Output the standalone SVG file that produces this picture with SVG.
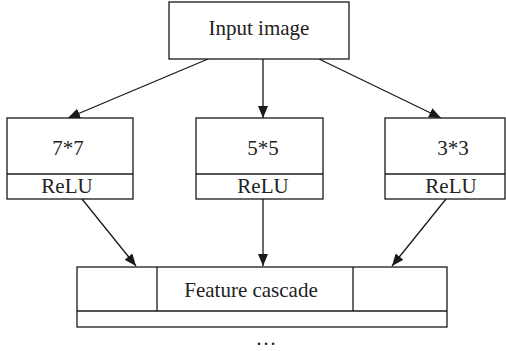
<svg xmlns="http://www.w3.org/2000/svg" width="506" height="351" viewBox="0 0 506 351">
<style>
.box{fill:#fff;stroke:#1a1a1a;stroke-width:1.3}
.ln{fill:none;stroke:#1a1a1a;stroke-width:1.3}
.edge{stroke:#1a1a1a;stroke-width:1.3;fill:none;marker-end:url(#ah)}
text{font-family:"Liberation Serif","Times New Roman",serif;font-size:21px;fill:#222;text-anchor:middle}
</style>
<defs>
<marker id="ah" viewBox="0 0 12 10" refX="12" refY="5" markerWidth="12" markerHeight="10" markerUnits="userSpaceOnUse" orient="auto">
<path d="M0,0 L12,5 L0,10 Z" fill="#1a1a1a"/>
</marker>
</defs>
<rect width="506" height="351" fill="#fff"/>
<g id="connectors">
<line class="edge" x1="208" y1="59" x2="68" y2="118"/>
<line class="edge" x1="263" y1="59" x2="263" y2="118"/>
<line class="edge" x1="319" y1="59" x2="441" y2="118"/>
<line class="edge" x1="82" y1="199" x2="136" y2="266"/>
<line class="edge" x1="263" y1="199" x2="263" y2="266"/>
<line class="edge" x1="446" y1="199" x2="392" y2="266"/>
</g>
<g id="input">
<rect class="box" x="169" y="2" width="180" height="57"/>
<text x="259" y="35">Input image</text>
</g>
<g id="conv7">
<rect class="box" x="7" y="118" width="126" height="81"/>
<line class="ln" x1="7" y1="174" x2="133" y2="174"/>
<text x="68" y="155">7*7</text>
<text x="67" y="193">ReLU</text>
</g>
<g id="conv5">
<rect class="box" x="196" y="118" width="127" height="81"/>
<line class="ln" x1="196" y1="174" x2="323" y2="174"/>
<text x="263" y="155">5*5</text>
<text x="263" y="193">ReLU</text>
</g>
<g id="conv3">
<rect class="box" x="385" y="118" width="120" height="81"/>
<line class="ln" x1="385" y1="174" x2="505" y2="174"/>
<text x="453" y="155">3*3</text>
<text x="451" y="193">ReLU</text>
</g>
<g id="cascade">
<rect class="box" x="77" y="267" width="370" height="60"/>
<line class="ln" x1="77" y1="311" x2="447" y2="311"/>
<line class="ln" x1="157" y1="267" x2="157" y2="311"/>
<line class="ln" x1="353" y1="267" x2="353" y2="311"/>
<text x="251" y="297">Feature cascade</text>
<text x="266" y="345">…</text>
</g>
</svg>
